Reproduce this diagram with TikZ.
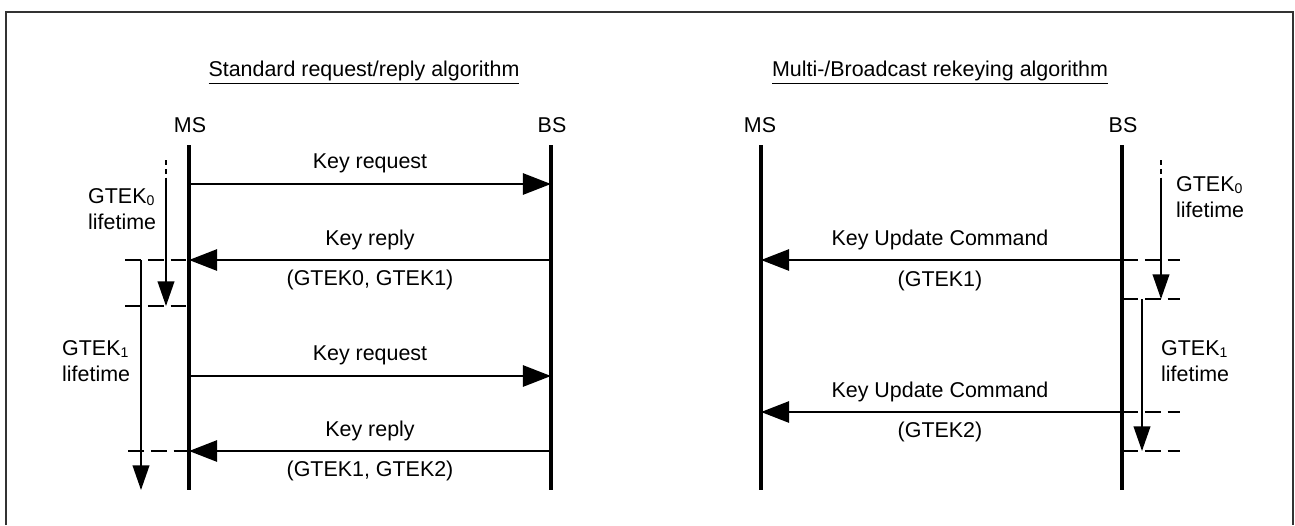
\documentclass[tikz,border=0pt]{standalone}
\usepackage{fontspec}
\setmainfont{Liberation Sans}
\usetikzlibrary{arrows.meta}
\newcommand{\gtek}[1]{GTEK\raisebox{-0.15ex}{\footnotesize #1}}

\begin{document}
\begin{tikzpicture}[x=0.02cm, y=-0.02cm, font=\fontsize{12.2}{14.7}\selectfont,
  frame/.style={line width=1.1pt, black!80},
  lifeline/.style={line width=1.8pt},
  msg/.style={line width=1.5pt, -{Triangle[length=16pt, width=12pt]}},
  life/.style={line width=0.9pt, -{Triangle[length=14pt, width=9.5pt]}},
  guide/.style={line width=0.9pt, dash pattern=on 9pt off 4pt},
  lead/.style={line width=0.9pt, dash pattern=on 3pt off 2pt}]
\useasboundingbox (0,0) rectangle (1295,525);
% frame, open at the bottom
\draw[frame] (6,525) -- (6,12) -- (1293,12) -- (1293,525);

% titles
\node (tstd) at (364,73) {\underline{Standard request/reply algorithm}};
\node (tmb) at (940,73) {\underline{Multi-/Broadcast rekeying algorithm}};

% stations and lifelines
\node (ms1) at (190,125) {MS};
\node (bs1) at (552,125) {BS};
\node (ms2) at (760,125) {MS};
\node (bs2) at (1123,125) {BS};
\coordinate (ms1t) at (189,145); \coordinate (ms1b) at (189,490);
\coordinate (bs1t) at (551,145); \coordinate (bs1b) at (551,490);
\coordinate (ms2t) at (761,145); \coordinate (ms2b) at (761,490);
\coordinate (bs2t) at (1122,145); \coordinate (bs2b) at (1122,490);
\draw[lifeline] (ms1t) -- (ms1b);
\draw[lifeline] (bs1t) -- (bs1b);
\draw[lifeline] (ms2t) -- (ms2b);
\draw[lifeline] (bs2t) -- (bs2b);

% message levels
\coordinate (r1) at (0,184);
\coordinate (r2) at (0,260);
\coordinate (r3) at (0,376);
\coordinate (r4) at (0,451);
\coordinate (u1) at (0,260);
\coordinate (u2) at (0,412);

% request/reply
\draw[msg] (ms1t |- r1) -- (bs1t |- r1);
\draw[msg] (bs1t |- r2) -- (ms1t |- r2);
\draw[msg] (ms1t |- r3) -- (bs1t |- r3);
\draw[msg] (bs1t |- r4) -- (ms1t |- r4);
\node (req1) at (370,163) {Key request};
\node (rep1) at (370,240) {Key reply};
\node (rep1k) at (370,280) {(GTEK0, GTEK1)};
\node (req2) at (370,355) {Key request};
\node (rep2) at (370,431) {Key reply};
\node (rep2k) at (370,471) {(GTEK1, GTEK2)};

% key lifetimes at the MS
\coordinate (g0a) at (125,260); \coordinate (g0b) at (125,306);
\coordinate (g1b) at (128,451);
\draw[guide] (g0a) -- (ms1t |- g0a);
\draw[guide] (g0b) -- (ms1t |- g0b);
\draw[guide] (g1b) -- (ms1t |- g1b);
\draw[lead] (166,160) -- (166,178);
\draw[life] (166,178) -- (166,306);
\draw[life] (141,260) -- (141,490);
\node[anchor=west, align=left] (lt0) at (82,209) {\gtek{0}\\lifetime};
\node[anchor=west, align=left] (lt1) at (56,361) {\gtek{1}\\lifetime};

% rekeying
\draw[msg] (bs2t |- u1) -- (ms2t |- u1);
\draw[msg] (bs2t |- u2) -- (ms2t |- u2);
\node (upd1) at (940,240) {Key Update Command};
\node (upd1k) at (940,281) {(GTEK1)};
\node (upd2) at (940,392) {Key Update Command};
\node (upd2k) at (940,432) {(GTEK2)};

% key lifetimes at the BS
\coordinate (h0a) at (1180,260); \coordinate (h0b) at (1180,299);
\coordinate (h1a) at (1180,412); \coordinate (h1b) at (1180,451);
\draw[guide] (bs2t |- h0a) -- (h0a);
\draw[guide] (bs2t |- h0b) -- (h0b);
\draw[guide] (bs2t |- h1a) -- (h1a);
\draw[guide] (bs2t |- h1b) -- (h1b);
\draw[lead] (1161,160) -- (1161,178);
\draw[life] (1161,178) -- (1161,299);
\draw[life] (1142,299) -- (1142,451);
\node[anchor=west, align=left] (rt0) at (1170,197) {\gtek{0}\\lifetime};
\node[anchor=west, align=left] (rt1) at (1155,361) {\gtek{1}\\lifetime};
\end{tikzpicture}
\end{document}
